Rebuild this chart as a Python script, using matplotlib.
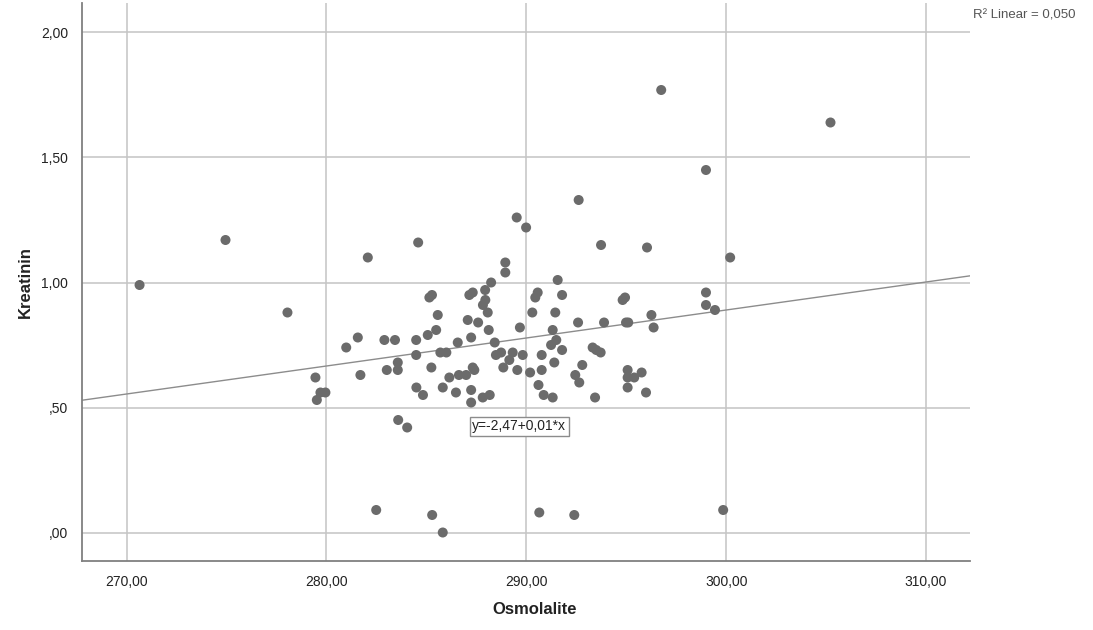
import numpy as np
import matplotlib.pyplot as plt
from matplotlib.ticker import FuncFormatter

# Osmolalite vs Kreatinin, one entry per case
osmolalite = [
    270.65, 274.95, 278.05, 279.45, 279.52, 279.70, 279.95, 280.99, 281.57, 281.70,
    282.07, 282.49, 282.90, 283.43, 283.02, 283.57, 283.57, 283.59, 284.04, 284.49,
    284.49, 284.50, 284.59, 284.83, 285.07, 285.15, 285.28, 285.25, 285.29, 285.49,
    285.57, 285.70, 285.82, 285.82, 286.00, 286.15, 286.48, 286.57, 286.63, 286.99,
    287.07, 287.15, 287.32, 287.24, 287.24, 287.24, 287.32, 287.40, 287.59, 287.82,
    288.17, 287.83, 287.95, 287.94, 288.07, 288.12, 288.24, 288.42, 288.48, 288.74,
    288.85, 288.95, 288.95, 289.15, 289.32, 289.52, 289.55, 289.68, 289.82, 289.99,
    290.19, 290.30, 290.45, 290.57, 290.61, 290.65, 290.77, 290.77, 290.87, 291.24,
    291.32, 291.32, 291.40, 291.45, 291.50, 291.57, 291.79, 291.79, 292.40, 292.45,
    292.62, 292.65, 292.59, 292.80, 293.32, 293.50, 293.72, 293.44, 293.74, 293.89,
    294.82, 294.94, 294.99, 295.10, 295.07, 295.07, 295.40, 295.77, 295.07, 295.99,
    296.04, 296.26, 296.37, 296.75, 298.99, 298.99, 298.99, 299.44, 299.85, 300.20,
    305.22,
]
kreatinin = [
    0.99, 1.17, 0.88, 0.62, 0.53, 0.56, 0.56, 0.74, 0.78, 0.63,
    1.10, 0.09, 0.77, 0.77, 0.65, 0.68, 0.65, 0.45, 0.42, 0.77,
    0.71, 0.58, 1.16, 0.55, 0.79, 0.94, 0.95, 0.66, 0.07, 0.81,
    0.87, 0.72, 0.58, 0.00, 0.72, 0.62, 0.56, 0.76, 0.63, 0.63,
    0.85, 0.95, 0.96, 0.78, 0.57, 0.52, 0.66, 0.65, 0.84, 0.54,
    0.55, 0.91, 0.93, 0.97, 0.88, 0.81, 1.00, 0.76, 0.71, 0.72,
    0.66, 1.08, 1.04, 0.69, 0.72, 1.26, 0.65, 0.82, 0.71, 1.22,
    0.64, 0.88, 0.94, 0.96, 0.59, 0.08, 0.71, 0.65, 0.55, 0.75,
    0.81, 0.54, 0.68, 0.88, 0.77, 1.01, 0.95, 0.73, 0.07, 0.63,
    1.33, 0.60, 0.84, 0.67, 0.74, 0.73, 0.72, 0.54, 1.15, 0.84,
    0.93, 0.94, 0.84, 0.84, 0.65, 0.62, 0.62, 0.64, 0.58, 0.56,
    1.14, 0.87, 0.82, 1.77, 1.45, 0.96, 0.91, 0.89, 0.09, 1.10,
    1.64,
]

# linear fit as reported
intercept = -2.47
slope = 0.0112
r_squared = 0.050

x_ticks = [270, 280, 290, 300, 310]
y_ticks = [0.0, 0.5, 1.0, 1.5, 2.0]

plt.rcParams['font.family'] = ['Liberation Sans', 'DejaVu Sans']

fig = plt.figure(figsize=(10.93, 6.30), dpi=100)
ax = fig.add_axes([82 / 1093, 1 - 561 / 630, (970 - 82) / 1093, (561 - 3) / 630])

xmin, xmax = 267.77, 312.2
ax.set_xlim(xmin, xmax)
ax.set_ylim(-0.114, 2.118)

ax.set_xticks(x_ticks)
ax.set_yticks(y_ticks)
ax.grid(True, color='#c4c4c4', linewidth=1.1)
ax.set_axisbelow(True)

def comma_fmt(v, pos):
    s = f'{v:.2f}'.replace('.', ',')
    if s.startswith('0,'):
        s = s[1:]
    return s

ax.xaxis.set_major_formatter(FuncFormatter(comma_fmt))
ax.yaxis.set_major_formatter(FuncFormatter(comma_fmt))
ax.tick_params(axis='both', length=0, labelsize=10, labelcolor='#222222')
ax.tick_params(axis='x', pad=10)
ax.tick_params(axis='y', pad=10)

for side in ['top', 'right']:
    ax.spines[side].set_visible(False)
for side in ['left', 'bottom']:
    ax.spines[side].set_color('#808080')
    ax.spines[side].set_linewidth(1.3)

ax.scatter(osmolalite, kreatinin, s=52, color='#6b6b6b', edgecolors='none', zorder=3)

xs = np.array([xmin, xmax])
ax.plot(xs, intercept + slope * xs, color='#8c8c8c', linewidth=1.0, zorder=2)

eq = f'y={intercept:.2f}+{slope:.2f}*x'.replace('.', ',')
ax.text(287.3, 0.424, eq, fontsize=10, color='#222222', ha='left', va='center', zorder=4,
        bbox=dict(boxstyle='square,pad=0.2', facecolor='white', edgecolor='#8c8c8c', linewidth=1.0))

fig.text(973 / 1093, 1 - 16 / 630, f'R² Linear = {r_squared:.3f}'.replace('.', ','),
         fontsize=9.5, color='#555555', ha='left', va='center')

fig.text(535 / 1093, 1 - 609 / 630, 'Osmolalite', fontsize=12, fontweight='bold',
         color='#222222', ha='center', va='center')
fig.text(25 / 1093, 1 - 282 / 630, 'Kreatinin', fontsize=12, fontweight='bold',
         color='#222222', ha='center', va='center', rotation=90)

fig.savefig('out.png', dpi=100)
